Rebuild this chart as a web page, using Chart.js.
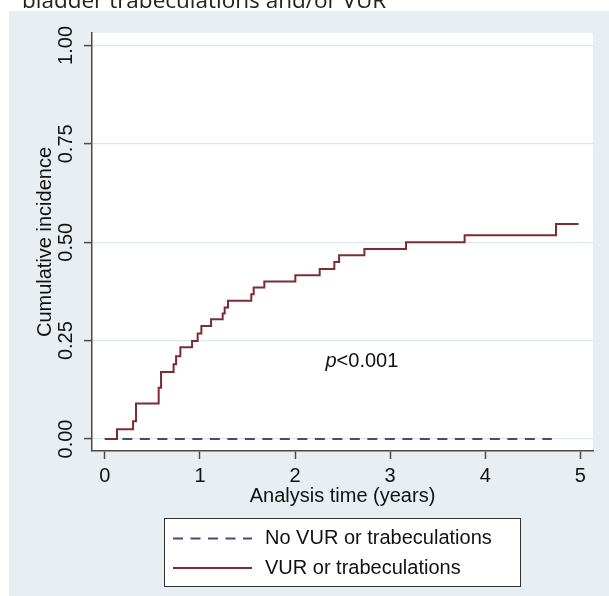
<!DOCTYPE html>
<html>
<head>
<meta charset="utf-8">
<script src="https://cdn.jsdelivr.net/npm/chart.js@4.4.1/dist/chart.umd.min.js"></script>
<style>
  html, body { margin: 0; padding: 0; background: #fff; }
  #wrap { position: relative; width: 609px; height: 596px; overflow: hidden; }
  #caption {
    position: absolute; left: 22px; top: -11px; z-index: 2;
    font: 22.5px/22.5px "Open Sans", sans-serif; color: #222; white-space: nowrap;
  }
  canvas { position: absolute; left: 0; top: 0; }
</style>
</head>
<body>
<div id="wrap">
  <div id="caption">bladder trabeculations and/or VUR</div>
  <canvas id="chart" width="609" height="596"></canvas>
</div>
<script>
// series (years, cumulative incidence)
const seriesLabels = ['No VUR or trabeculations', 'VUR or trabeculations'];
const noVurTimes = [0, 4.70];
const noVurIncidence = [0, 0];
const vurTimes = [0, 0.128, 0.297, 0.328, 0.566, 0.591, 0.723, 0.749, 0.794, 0.917, 0.976,
  1.015, 1.117, 1.239, 1.260, 1.295, 1.540, 1.565, 1.677, 2.003, 2.259, 2.413, 2.463,
  2.729, 3.167, 3.783, 4.744, 4.982];
const vurIncidence = [0, 0.025, 0.045, 0.090, 0.130, 0.170, 0.190, 0.210, 0.233, 0.249, 0.268,
  0.287, 0.304, 0.319, 0.334, 0.351, 0.368, 0.385, 0.400, 0.416, 0.432, 0.450, 0.467,
  0.483, 0.500, 0.518, 0.546, 0.546];

const xTickValues = [0, 1, 2, 3, 4, 5];
const yTickValues = [0, 0.25, 0.5, 0.75, 1];
const yTickLabels = ['0.00', '0.25', '0.50', '0.75', '1.00'];
const pValueText = 'p<0.001';
const pValueAt = { x: 2.32, y: 0.184 };

const FONT = '"Liberation Sans", Arial, sans-serif';
const INK = '#111';
const AXIS = '#4a4a4a';

Chart.defaults.font.family = FONT;
Chart.defaults.color = INK;

function toPoints(xs, ys) {
  return xs.map((x, i) => ({ x: x, y: ys[i] }));
}

// grey graph region + white plot region
const backdrop = {
  id: 'backdrop',
  beforeDraw(chart) {
    const ctx = chart.ctx;
    const a = chart.chartArea;
    ctx.save();
    ctx.fillStyle = '#e8eef1';
    ctx.fillRect(9, 11, chart.width - 9, chart.height - 11);
    ctx.fillStyle = '#fff';
    ctx.fillRect(a.left, a.top, a.right - a.left, a.bottom - a.top);
    ctx.restore();
  }
};

// rotated y labels, p value note and the boxed legend
const extras = {
  id: 'extras',
  afterDraw(chart) {
    const ctx = chart.ctx;
    const y = chart.scales.y;
    const x = chart.scales.x;
    ctx.save();
    ctx.fillStyle = INK;
    ctx.font = '20px ' + FONT;
    ctx.textAlign = 'center';
    ctx.textBaseline = 'middle';
    yTickValues.forEach((v, i) => {
      ctx.save();
      ctx.translate(66, y.getPixelForValue(v));
      ctx.rotate(-Math.PI / 2);
      ctx.fillText(yTickLabels[i], 0, 0);
      ctx.restore();
    });

    // p value, italic p
    const px = x.getPixelForValue(pValueAt.x);
    const py = y.getPixelForValue(pValueAt.y);
    ctx.textAlign = 'left';
    ctx.textBaseline = 'alphabetic';
    ctx.font = 'italic 20px ' + FONT;
    ctx.fillText(pValueText[0], px, py);
    const w = ctx.measureText(pValueText[0]).width;
    ctx.font = '20px ' + FONT;
    ctx.fillText(pValueText.slice(1), px + w, py);

    // legend
    ctx.fillStyle = '#fff';
    ctx.fillRect(164.5, 518.5, 356, 68);
    ctx.strokeStyle = '#333';
    ctx.lineWidth = 1;
    ctx.strokeRect(164.5, 518.5, 356, 68);
    const rows = [538.5, 568];
    chart.data.datasets.forEach((ds, i) => {
      ctx.strokeStyle = ds.borderColor;
      ctx.lineWidth = ds.borderWidth;
      ctx.setLineDash(ds.borderDash || []);
      ctx.beginPath();
      ctx.moveTo(173, rows[i]);
      ctx.lineTo(252, rows[i]);
      ctx.stroke();
      ctx.setLineDash([]);
      ctx.fillStyle = INK;
      ctx.textBaseline = 'middle';
      ctx.fillText(ds.label, 265, rows[i]);
    });
    ctx.restore();
  }
};

new Chart(document.getElementById('chart'), {
  type: 'line',
  data: {
    datasets: [{
      label: seriesLabels[0],
      data: toPoints(noVurTimes, noVurIncidence),
      borderColor: '#3c4f7c',
      borderWidth: 2,
      borderDash: [10, 7.5],
      pointRadius: 0,
      order: 1
    }, {
      label: seriesLabels[1],
      data: toPoints(vurTimes, vurIncidence),
      borderColor: '#7d2c33',
      borderWidth: 2,
      stepped: 'before',
      borderJoinStyle: 'miter',
      pointRadius: 0,
      order: 0
    }]
  },
  options: {
    responsive: false,
    devicePixelRatio: 1,
    animation: false,
    layout: { padding: { top: 33, right: 16, left: 0, bottom: 0 } },
    plugins: {
      legend: { display: false },
      tooltip: { enabled: false }
    },
    scales: {
      x: {
        type: 'linear',
        min: -0.135,
        max: 5.133,
        afterBuildTicks: (s) => { s.ticks = xTickValues.map(v => ({ value: v })); },
        afterFit: (s) => { s.height = 145; },
        grid: { drawOnChartArea: false, tickLength: 8, tickColor: AXIS, tickWidth: 1.5 },
        border: { color: AXIS, width: 1.5 },
        ticks: {
          font: { size: 20 },
          color: INK,
          padding: 5,
          maxRotation: 0,
          autoSkip: false,
          callback: (v) => String(v)
        },
        title: {
          display: true,
          text: 'Analysis time (years)',
          font: { size: 20 },
          color: INK,
          padding: { top: 0, bottom: 88 }
        }
      },
      y: {
        min: -0.0305,
        max: 1.0316,
        afterBuildTicks: (s) => { s.ticks = yTickValues.map(v => ({ value: v })); },
        afterFit: (s) => { s.width = 92; },
        grid: { color: '#dfe7ec', lineWidth: 1.2, tickLength: 8, tickColor: AXIS, tickWidth: 1.5 },
        border: { color: AXIS, width: 1.5 },
        ticks: { display: false },
        title: {
          display: true,
          text: 'Cumulative incidence',
          font: { size: 20 },
          color: INK,
          padding: { top: 33.5, bottom: 0 }
        }
      }
    }
  },
  plugins: [backdrop, extras]
});
</script>
</body>
</html>
